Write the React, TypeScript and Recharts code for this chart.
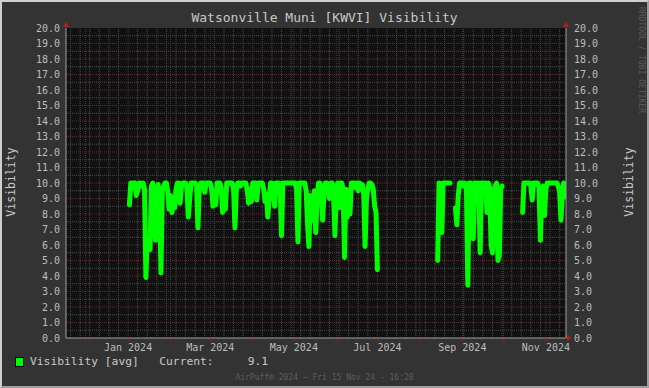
import React from "react";
import { ComposedChart, Line, XAxis, YAxis, CartesianGrid, ReferenceDot, ReferenceLine } from "recharts";

const FONT = '"DejaVu Sans Mono", "Liberation Mono", monospace';
const DAY = 86400000;
const tStr = (s: string) => Date.parse(s + "T00:00:00Z");

const rangeStart = Date.UTC(2023, 10, 16, 16, 20);
const rangeEnd = Date.UTC(2024, 10, 15, 16, 20);

// Daily average visibility (statute miles)
const seg1Start = "2024-01-02";
const seg1Values = [
  8.6, 10, 10, 9.9, 10, 9.2, 9.5, 10, 10, 9.8,
  10, 9.6, 3.9, 6.5, 5.8, 5.7, 9.8, 10, 9.0, 6.3,
  9.5, 9.9, 9.0, 4.2, 9.5, 9.8, 10, 10, 9.4, 8.3,
  9.2, 8.1, 8.6, 8.4, 9.6, 10, 10, 8.7, 9.8, 10,
  10, 10, 9.6, 7.8, 9.0, 10, 10, 10, 10, 9.8,
  7.1, 9.7, 10, 10, 10, 9.4, 10, 10, 10, 10,
  9.6, 8.5, 9.3, 8.6, 10, 10, 10, 9.7, 8.1, 8.8,
  8.3, 10, 10, 10, 10, 10, 9.6, 7.1, 9.5, 10,
  10, 9.8, 10, 10, 10, 10, 9.5, 8.7, 9.6, 8.8,
  10, 10, 10, 8.9, 10, 10, 10, 10, 9.6, 8.8,
  9.3, 7.8, 9.0, 10, 10, 9.4, 8.5, 10, 10, 10,
  9.7, 6.6, 10, 10, 10, 10, 10, 10, 10, 10,
  10, 10, 9.6, 6.2, 10, 10, 10, 10, 10, 9.5,
  7.4, 5.9, 9.2, 8.6, 7.6, 9.5, 6.8, 9.0, 10, 10,
  9.5, 7.6, 9.3, 10, 10, 9.7, 9.0, 10, 10, 9.2,
  6.6, 9.5, 10, 8.4, 10, 10, 9.6, 5.2, 9.6, 7.8,
  9.5, 8.0, 10, 10, 10, 9.7, 10, 9.5, 10, 9.6,
  9.9, 9.3, 5.9, 9.0, 9.6, 10, 10, 9.9, 9.6, 8.5,
  8.1, 4.4,
];
const seg2Start = "2024-08-14";
const seg2Values = [5.0, 10, 9.9, 6.8, 10, 10, 10, 10, 10, 10];
const seg3Start = "2024-08-27";
const seg3Values = [
  8.4, 7.3, 9.2, 10, 10, 10, 9.8, 10, 9.7, 3.4,
  10, 10, 9.8, 6.4, 10, 10, 9.5, 10, 5.5, 10,
  10, 9.2, 10, 8.1, 10, 9.7, 6.0, 5.5, 9.4, 9.8,
  10, 5.0, 5.3, 9.6, 9.8,
];
const seg4Start = "2024-10-15";
const seg4Values = [
  8.1, 10, 10, 10, 10, 10, 9.8, 8.9, 10, 10,
  10, 10, 9.7, 6.3, 9.5, 9.8, 7.9, 9.6, 10, 10,
  10, 10, 10, 10, 10, 10, 9.8, 9.5, 7.6, 9.2,
  10, 9.1,
];

const monthTicks = [
  "2023-12-01", "2024-01-01", "2024-02-01", "2024-03-01", "2024-04-01", "2024-05-01",
  "2024-06-01", "2024-07-01", "2024-08-01", "2024-09-01", "2024-10-01", "2024-11-01",
];
const monthLabels = ["", "Jan 2024", "", "Mar 2024", "", "May 2024", "", "Jul 2024", "", "Sep 2024", "", "Nov 2024"];
const firstMonday = "2023-11-20";
const yTicks = [0, 1, 2, 3, 4, 5, 6, 7, 8, 9, 10, 11, 12, 13, 14, 15, 16, 17, 18, 19, 20];

const title = "Watsonville Muni [KWVI] Visibility";
const yLabel = "Visibility";
const legendText = "Visibility [avg]   Current:     9.1";
const footer = "AirPuff\u00ae 2024 \u2014 Fri 15 Nov 24 - 16:20";
const watermark = "RRDTOOL / TOBI OETIKER";

function segment(start: string, values: number[]) {
  const t0 = tStr(start);
  const pts: { t: number; v: number | null }[] = values.map((v, i) => ({ t: t0 + i * DAY, v }));
  pts.push({ t: t0 + values.length * DAY, v: null });
  return pts;
}

const data = [
  ...segment(seg1Start, seg1Values),
  ...segment(seg2Start, seg2Values),
  ...segment(seg3Start, seg3Values),
  ...segment(seg4Start, seg4Values),
];

const monthTimes = monthTicks.map(tStr);
const weekTimes: number[] = [];
for (let t = tStr(firstMonday); t < rangeEnd; t += 7 * DAY) {
  if (!monthTimes.includes(t)) weekTimes.push(t);
}
const halfSteps: number[] = [];
for (let i = 1; i < 40; i += 2) halfSteps.push(i / 2);

const labelFor = (t: number) => {
  const i = monthTimes.indexOf(t);
  return i >= 0 ? monthLabels[i] : "";
};

const ARROW = "#b02020";
const MINOR = "#4a4a4a";
const MAJOR = "#682626";
const upArrow = (p: any) => (
  <polygon points={`${p.cx - 3},${p.cy - 1} ${p.cx + 3},${p.cy - 1} ${p.cx},${p.cy - 6}`} fill={ARROW} />
);
const rightArrow = (p: any) => (
  <polygon points={`${p.cx + 1},${p.cy - 3} ${p.cx + 1},${p.cy + 3} ${p.cx + 6},${p.cy}`} fill={ARROW} />
);

const textColor = "#c8c8c8";

export default function App() {
  return (
    <div style={{ position: "absolute", left: 0, top: 0, width: 649, height: 388, background: "#333333", overflow: "hidden", fontFamily: FONT }}>
      <div style={{ position: "absolute", left: 0, top: 0 }}>
        <ComposedChart width={649} height={388} data={data} margin={{ top: 28, right: 23, bottom: 20, left: 6 }}>
          <CartesianGrid yAxisId="left" fill="#111111" fillOpacity={1} horizontal={false} vertical={false} />
          {weekTimes.map((t) => (
            <ReferenceLine key={"w" + t} yAxisId="left" x={t} stroke={MINOR} strokeDasharray="1 1" zIndex={-90} />
          ))}
          {halfSteps.map((v) => (
            <ReferenceLine key={"h" + v} yAxisId="left" y={v} stroke={MINOR} strokeDasharray="1 1" zIndex={-90} />
          ))}
          {monthTimes.map((t) => (
            <ReferenceLine key={"m" + t} yAxisId="left" x={t} stroke={MAJOR} strokeDasharray="1 1" zIndex={-80} />
          ))}
          {yTicks.slice(1, 20).map((v) => (
            <ReferenceLine key={"y" + v} yAxisId="left" y={v} stroke={MAJOR} strokeDasharray="1 1" zIndex={-80} />
          ))}
          <XAxis
            dataKey="t"
            type="number"
            domain={[rangeStart, rangeEnd]}
            allowDataOverflow
            ticks={monthTimes}
            interval={0}
            tickFormatter={labelFor}
            tick={{ fill: "#bdbdbd", fontSize: 10, fontFamily: FONT }}
            axisLine={{ stroke: "#a0a0a0" }}
            tickLine={{ stroke: ARROW }}
            tickSize={3}
            tickMargin={3}
            height={30}
          />
          <YAxis
            yAxisId="left"
            domain={[0, 20]}
            ticks={yTicks}
            interval={0}
            allowDataOverflow
            tickFormatter={(v: number) => v.toFixed(1)}
            tick={{ fill: "#bdbdbd", fontSize: 10, fontFamily: FONT }}
            axisLine={{ stroke: "#a0a0a0" }}
            tickLine={false}
            tickSize={2}
            tickMargin={4}
            width={60}
          />
          <YAxis
            yAxisId="right"
            orientation="right"
            domain={[0, 20]}
            ticks={yTicks}
            interval={0}
            allowDataOverflow
            tickFormatter={(v: number) => v.toFixed(1)}
            tick={{ fill: "#bdbdbd", fontSize: 10, fontFamily: FONT, textAnchor: "start" }}
            axisLine={{ stroke: "#a0a0a0" }}
            tickLine={false}
            tickSize={2}
            tickMargin={6}
            width={60}
          />
          <Line
            yAxisId="left"
            dataKey="v"
            type="linear"
            stroke="#00ff00"
            strokeWidth={5}
            strokeLinejoin="round"
            strokeLinecap="round"
            dot={false}
            activeDot={false}
            connectNulls={false}
            isAnimationActive={false}
          />
          <ReferenceDot yAxisId="left" x={rangeStart} y={20} ifOverflow="visible" shape={upArrow} />
          <ReferenceDot yAxisId="left" x={rangeEnd} y={20} ifOverflow="visible" shape={upArrow} />
          <ReferenceDot yAxisId="left" x={rangeEnd} y={0} ifOverflow="visible" shape={rightArrow} />
        </ComposedChart>
      </div>

      <div style={{ position: "absolute", left: 0, width: 649, top: 10, textAlign: "center", fontSize: 13, color: textColor, lineHeight: "16px", whiteSpace: "pre" }}>{title}</div>

      <div style={{ position: "absolute", left: 11, top: 182, transform: "translate(-50%, -50%) rotate(-90deg)", fontSize: 11.5, color: textColor, whiteSpace: "pre", lineHeight: "14px" }}>{yLabel}</div>
      <div style={{ position: "absolute", left: 629, top: 182, transform: "translate(-50%, -50%) rotate(-90deg)", fontSize: 11.5, color: textColor, whiteSpace: "pre", lineHeight: "14px" }}>{yLabel}</div>

      <div style={{ position: "absolute", left: 641, top: 60, transform: "translate(-50%, -50%) rotate(90deg)", fontSize: 8, color: "#5a5a5a", whiteSpace: "pre", lineHeight: "10px" }}>{watermark}</div>

      <div style={{ position: "absolute", left: 15, top: 357, width: 7, height: 8, background: "#00ff00", border: "1px solid #000" }} />
      <div style={{ position: "absolute", left: 30, top: 354, fontSize: 11.3, color: textColor, whiteSpace: "pre", lineHeight: "16px" }}>{legendText}</div>

      <div style={{ position: "absolute", left: 0, width: 649, top: 373, textAlign: "center", fontSize: 8, color: "#5e5e5e", whiteSpace: "pre", lineHeight: "10px" }}>{footer}</div>

      <div style={{ position: "absolute", left: 0, top: 0, width: 649, height: 388, boxSizing: "border-box", borderStyle: "solid", borderWidth: 2, borderColor: "#cfcfcf #9e9e9e #9e9e9e #cfcfcf", pointerEvents: "none" }} />
    </div>
  );
}
